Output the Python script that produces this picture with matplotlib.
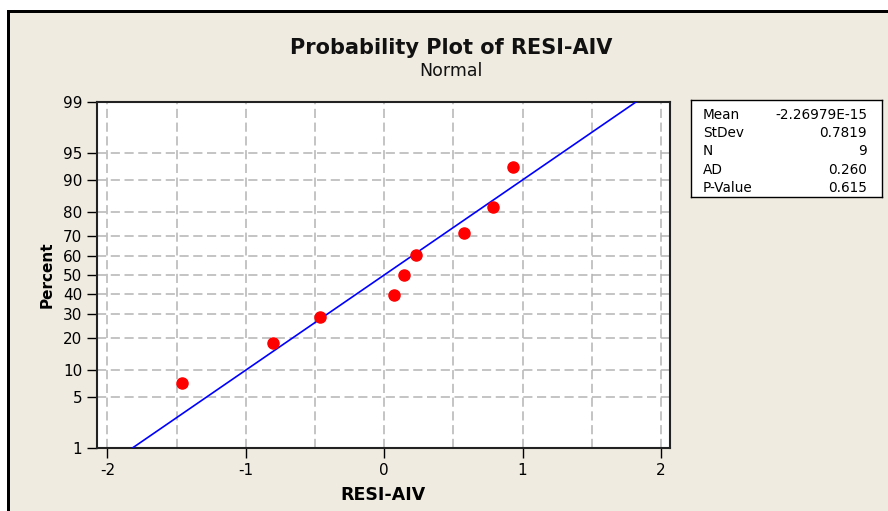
import numpy as np
import matplotlib
matplotlib.use("Agg")
import matplotlib.pyplot as plt
from matplotlib.patches import Rectangle
from statistics import NormalDist

# data
resid = [-1.46, -0.80, -0.465, 0.07, 0.14, 0.23, 0.575, 0.785, 0.93]
percent = [7.4, 18.1, 28.7, 39.4, 50.0, 60.6, 71.3, 81.9, 92.6]
mu = -2.26979e-15
sigma = 0.7819
yticks = [1, 5, 10, 20, 30, 40, 50, 60, 70, 80, 90, 95, 99]
xticks = [-2, -1, 0, 1, 2]
xgrid = [-2, -1.5, -1, -0.5, 0, 0.5, 1, 1.5, 2]
stat_names = ["Mean", "StDev", "N", "AD", "P-Value"]
stat_vals = ["-2.26979E-15", "0.7819", "9", "0.260", "0.615"]

nd = NormalDist()
_ppf = np.vectorize(lambda p: nd.inv_cdf(min(max(p / 100.0, 1e-9), 1 - 1e-9)), otypes=[float])
_cdf = np.vectorize(lambda z: nd.cdf(z) * 100.0, otypes=[float])

def fwd(p):
    return _ppf(np.asarray(p, dtype=float))

def inv(z):
    return _cdf(np.asarray(z, dtype=float))

bg = "#EFEBE1"
fig = plt.figure(figsize=(8.88, 5.11), dpi=100, facecolor=bg)

# frame around the graph window
W, H = 888.0, 511.0
fig.add_artist(Rectangle((0, 1 - 10 / H), 1, 10 / H, transform=fig.transFigure,
                         facecolor="white", edgecolor="none"))
fig.add_artist(Rectangle((0, 0), 7 / W, 1, transform=fig.transFigure,
                         facecolor="white", edgecolor="none"))
fig.add_artist(Rectangle((7 / W, 1 - 13 / H), 1 - 7 / W, 3 / H, transform=fig.transFigure,
                         facecolor="black", edgecolor="none"))
fig.add_artist(Rectangle((7 / W, 0), 3 / W, 1 - 10 / H, transform=fig.transFigure,
                         facecolor="black", edgecolor="none"))

ax = fig.add_axes([97 / W, 1 - 448 / H, (670 - 97) / W, (448 - 102) / H])
ax.set_facecolor("white")
ax.set_yscale("function", functions=(fwd, inv))
ax.set_ylim(1, 99)
ax.set_xlim(-2.075, 2.065)

for xv in xgrid:
    ax.axvline(xv, color="#B4B4B4", lw=1.1, ls=(0, (6, 3)), zorder=1)
for yv in yticks[1:-1]:
    ax.axhline(yv, color="#B4B4B4", lw=1.1, ls=(0, (6, 3)), zorder=1)

zz = np.linspace(nd.inv_cdf(0.01), nd.inv_cdf(0.99), 200)
xline = mu + sigma * zz
ax.plot(xline, inv(zz), color="#0000FF", lw=1.2, zorder=3)
ax.plot(resid, percent, "o", color="#FF0000", ms=8, mec="#FF0000", zorder=4)

ax.set_yticks(yticks)
ax.set_yticklabels([str(v) for v in yticks])
ax.yaxis.set_minor_locator(matplotlib.ticker.NullLocator())
ax.set_xticks(xticks)
ax.set_xticklabels([str(v) for v in xticks])
ax.tick_params(direction="out", length=7, width=1, colors="black", labelsize=11)
for s in ax.spines.values():
    s.set_color("#222222")
    s.set_linewidth(1.5)

ax.set_xlabel("RESI-AIV", fontsize=12.5, fontweight="bold", labelpad=6)
ax.set_ylabel("Percent", fontsize=11, fontweight="bold", labelpad=6)

fig.text(451 / W, 1 - 48 / H, "Probability Plot of RESI-AIV", ha="center", va="center",
         fontsize=15, fontweight="bold", color="#111111")
fig.text(451 / W, 1 - 71 / H, "Normal", ha="center", va="center", fontsize=12.5, color="#111111")

# stats box
bx = fig.add_axes([691 / W, 1 - 197 / H, (882 - 691) / W, (197 - 100) / H])
bx.set_facecolor("white")
bx.set_xticks([])
bx.set_yticks([])
for s in bx.spines.values():
    s.set_color("black")
    s.set_linewidth(1)
for i, (nm, vl) in enumerate(zip(stat_names, stat_vals)):
    yy = 1 - (15 + 18.2 * i) / 97.0
    bx.text(12 / 191.0, yy, nm, transform=bx.transAxes, ha="left", va="center", fontsize=9.8)
    bx.text(176 / 191.0, yy, vl, transform=bx.transAxes, ha="right", va="center", fontsize=9.8)

fig.savefig("out.png", dpi=100, facecolor=bg)
